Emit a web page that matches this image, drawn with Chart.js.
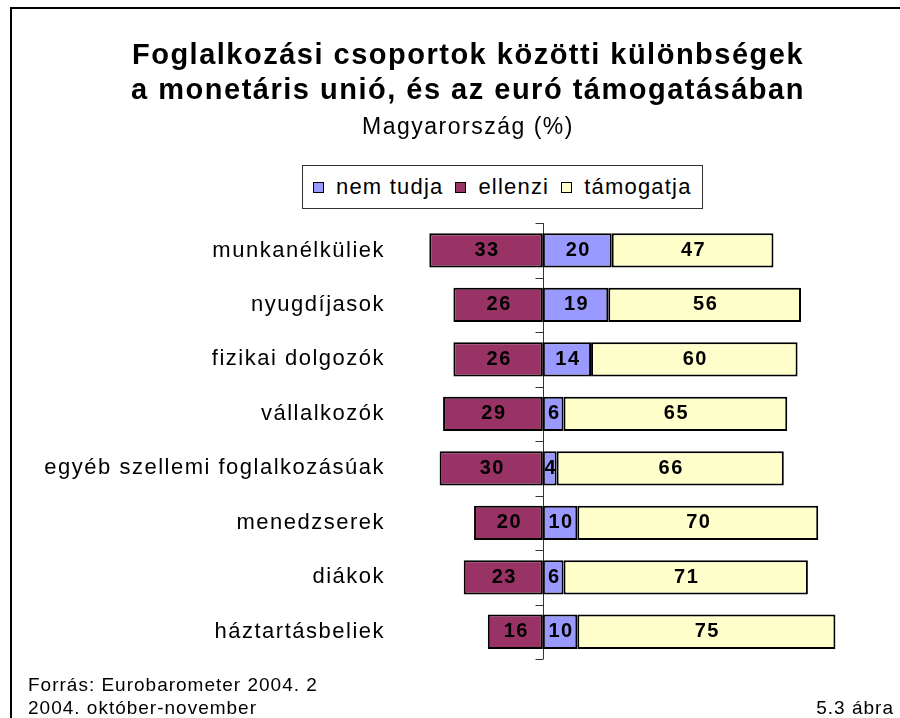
<!DOCTYPE html>
<html>
<head>
<meta charset="utf-8">
<script src="https://cdn.jsdelivr.net/npm/chart.js@4.4.0/dist/chart.umd.min.js"></script>
<style>
  body { margin: 0; background: #fff; }
  #wrap { position: relative; width: 900px; height: 718px; overflow: hidden; font-family: "Liberation Sans", Arial, sans-serif; color: #000; }
  #frame { position: absolute; left: 10px; top: 7px; width: 900px; height: 720px; border-left: 2px solid #000; border-top: 2px solid #000; }
  #chart { position: absolute; left: 0; top: 0; }
  #legend { position: absolute; left: 302px; top: 165px; width: 401px; height: 44px; border: 1px solid #333; background: #fff;
            display: flex; align-items: center; padding-left: 10px; box-sizing: border-box; font-size: 22px; letter-spacing: 1.2px; white-space: nowrap; }
  #legend .item { display: flex; align-items: center; margin-right: 12px; }
  #legend i { display: inline-block; width: 11px; height: 11px; border: 1.5px solid #000; margin-right: 12px; box-sizing: border-box; }
  .foot { position: absolute; font-size: 19px; letter-spacing: 1px; line-height: 23px; white-space: nowrap; }
</style>
</head>
<body>
<div id="wrap">
  <div id="frame"></div>
  <canvas id="chart" width="900" height="718"></canvas>
  <div id="legend"></div>
  <div class="foot" style="left:28px; top:673px;">Forrás: Eurobarometer 2004. 2<br>2004. október-november</div>
  <div class="foot" style="right:6px; top:696px;">5.3 ábra</div>
</div>
<script>
// data (%)
const categories = ['munkanélküliek', 'nyugdíjasok', 'fizikai dolgozók', 'vállalkozók',
                    'egyéb szellemi foglalkozásúak', 'menedzserek', 'diákok', 'háztartásbeliek'];
const nemTudja = [20, 19, 14, 6, 4, 10, 6, 10];
const ellenzi = [33, 26, 26, 29, 30, 20, 23, 16];
const tamogatja = [47, 56, 60, 65, 66, 70, 71, 75];

const FONT = '"Liberation Sans", Arial, sans-serif';
Chart.defaults.color = '#000';
Chart.defaults.font.family = FONT;

// the original text is set a bit loose, like excel does it
const spacing = {
    id: 'spacing',
    beforeDraw(chart) {
        chart.ctx.letterSpacing = '1.5px';
    }
};

// vertical zero line with small ticks between the categories
const zeroAxis = {
    id: 'zeroAxis',
    beforeDatasetsDraw(chart) {
        const { ctx, chartArea, scales } = chart;
        const x0 = Math.round(scales.x.getPixelForValue(0)) + 0.5;
        ctx.save();
        ctx.strokeStyle = '#333';
        ctx.lineWidth = 1;
        ctx.beginPath();
        ctx.moveTo(x0, chartArea.top);
        ctx.lineTo(x0, chartArea.bottom);
        for (let i = 0; i <= categories.length; i++) {
            const yy = Math.round(scales.y.getPixelForValue(i - 0.5)) + 0.5;
            ctx.moveTo(x0 - 8, yy);
            ctx.lineTo(x0, yy);
        }
        ctx.stroke();
        ctx.restore();
    }
};

// numbers inside the bars
const barLabels = {
    id: 'barLabels',
    afterDatasetsDraw(chart) {
        const ctx = chart.ctx;
        ctx.save();
        ctx.font = 'bold 20px ' + FONT;
        ctx.fillStyle = '#000';
        ctx.textAlign = 'center';
        ctx.textBaseline = 'middle';
        chart.data.datasets.forEach((ds, i) => {
            chart.getDatasetMeta(i).data.forEach((bar, j) => {
                const p = bar.getCenterPoint();
                ctx.fillText(Math.abs(ds.data[j]), p.x + 1, p.y);
            });
        });
        ctx.restore();
    }
};

const chart = new Chart(document.getElementById('chart'), {
    type: 'bar',
    data: {
        labels: categories,
        datasets: [{
            label: 'nem tudja',
            data: nemTudja,
            backgroundColor: '#9999FF'
        }, {
            label: 'ellenzi',
            data: ellenzi.map(v => -v),
            backgroundColor: '#993366'
        }, {
            label: 'támogatja',
            data: tamogatja,
            backgroundColor: '#FFFFCC'
        }]
    },
    options: {
        indexAxis: 'y',
        responsive: false,
        animation: false,
        layout: { padding: { left: 40, right: 4, top: 0, bottom: 59 } },
        datasets: {
            bar: {
                borderColor: '#000',
                borderWidth: 2,
                borderSkipped: false,
                barPercentage: 0.63,
                categoryPercentage: 1
            }
        },
        scales: {
            x: { stacked: true, min: -45, max: 102.6, display: false },
            y: {
                stacked: true,
                grid: { display: false, drawTicks: false },
                border: { display: false },
                ticks: { padding: 3, font: { size: 22 } },
                afterFit(scale) { scale.width = 348; }
            }
        },
        plugins: {
            legend: { display: false },
            tooltip: { enabled: false },
            title: {
                display: true,
                text: ['Foglalkozási csoportok közötti különbségek', 'a monetáris unió, és az euró támogatásában'],
                font: { size: 29, weight: 'bold' },
                lineHeight: 1.15,
                padding: { top: 39, bottom: 0 }
            },
            subtitle: {
                display: true,
                text: 'Magyarország (%)',
                font: { size: 23 },
                lineHeight: 1.2,
                padding: { top: 5, bottom: 82 }
            }
        }
    },
    plugins: [spacing, zeroAxis, barLabels]
});

// html legend with a frame, built from the datasets
const legendEl = document.getElementById('legend');
chart.data.datasets.forEach(ds => {
    const item = document.createElement('span');
    item.className = 'item';
    const box = document.createElement('i');
    box.style.background = ds.backgroundColor;
    item.appendChild(box);
    item.appendChild(document.createTextNode(ds.label));
    legendEl.appendChild(item);
});
</script>
</body>
</html>
